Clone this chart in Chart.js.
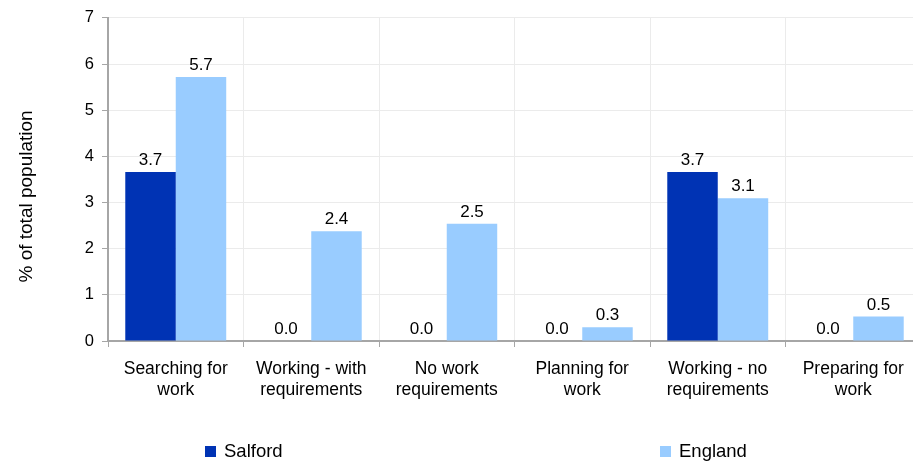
<!DOCTYPE html>
<html>
<head>
<meta charset="utf-8">
<script src="https://cdn.jsdelivr.net/npm/chart.js@4.4.1/dist/chart.umd.min.js"></script>
<style>
  html, body { margin: 0; padding: 0; overflow: hidden; background: #fff; }
  #wrap { position: relative; width: 925px; height: 463px; }
  .legend-item { position: absolute; top: 440px; font: 18.5px "Liberation Sans", Arial, sans-serif; color: #000; white-space: nowrap; }
  .legend-item span.box { display: inline-block; width: 11px; height: 11px; margin-right: 8px; vertical-align: 0px; }
</style>
</head>
<body>
<div id="wrap">
  <canvas id="chart" width="925" height="463"></canvas>
  <div id="legend"></div>
</div>
<script>
//canvas element
const ctx = document.getElementById('chart').getContext('2d');

/**
 * Chart data
 */
const categories = [
    ['Searching for', 'work'],
    ['Working - with', 'requirements'],
    ['No work', 'requirements'],
    ['Planning for', 'work'],
    ['Working - no', 'requirements'],
    ['Preparing for', 'work']
];
const salford = [3.66, 0, 0, 0, 3.66, 0];
const england = [5.72, 2.38, 2.54, 0.3, 3.09, 0.53];
const yTicks = [0, 1, 2, 3, 4, 5, 6, 7];
const yTitle = '% of total population';

const seriesNames = ['Salford', 'England'];
const seriesColors = ['#0033b4', '#99ccff'];
const legendLeft = [205, 660];

const fontFamily = '"Liberation Sans", Arial, sans-serif';

/**
 * draws the value above every bar
 */
const valueLabels = {
    id: 'valueLabels',
    afterDatasetsDraw(chart) {
        const c = chart.ctx;
        c.save();
        c.font = '17px ' + fontFamily;
        c.fillStyle = '#000';
        c.textAlign = 'center';
        c.textBaseline = 'alphabetic';
        chart.data.datasets.forEach((ds, i) => {
            chart.getDatasetMeta(i).data.forEach((bar, j) => {
                c.fillText(ds.data[j].toFixed(1), bar.x, bar.y - 7);
            });
        });
        c.restore();
    }
};

/**
 * vertical axis title, sits a bit below the middle of the plot like the original
 */
const axisTitle = {
    id: 'axisTitle',
    afterDraw(chart) {
        const c = chart.ctx;
        const area = chart.chartArea;
        c.save();
        c.translate(27, (area.top + area.bottom) / 2 + 17);
        c.rotate(-Math.PI / 2);
        c.font = '19px ' + fontFamily;
        c.fillStyle = '#000';
        c.textAlign = 'center';
        c.textBaseline = 'middle';
        c.fillText(yTitle, 0, 0);
        c.restore();
    }
};

const chart = new Chart(ctx, {
    type: 'bar',
    data: {
        labels: categories,
        datasets: [{
            label: seriesNames[0],
            data: salford,
            backgroundColor: seriesColors[0],
            barPercentage: 1,
            categoryPercentage: 0.745
        }, {
            label: seriesNames[1],
            data: england,
            backgroundColor: seriesColors[1],
            barPercentage: 1,
            categoryPercentage: 0.745
        }]
    },
    options: {
        responsive: false,
        animation: false,
        layout: { padding: { top: 14, right: 4, left: 0, bottom: 0 } },
        plugins: {
            legend: { display: false },
            tooltip: { enabled: false }
        },
        scales: {
            x: {
                afterFit: (s) => { s.height = 122; },
                grid: {
                    color: '#ebebeb',
                    tickColor: '#a6a6a6',
                    tickLength: 6,
                    offset: true
                },
                border: { color: '#a6a6a6', width: 2 },
                ticks: {
                    color: '#000',
                    padding: 12,
                    maxRotation: 0,
                    autoSkip: false,
                    font: { family: fontFamily, size: 17.5, lineHeight: 1.18 }
                }
            },
            y: {
                min: 0,
                max: 7,
                afterFit: (s) => { s.width = 108; },
                afterBuildTicks: (s) => { s.ticks = yTicks.map(v => ({ value: v })); },
                grid: {
                    color: '#ebebeb',
                    tickColor: '#a6a6a6',
                    tickLength: 6
                },
                border: { color: '#a6a6a6', width: 2 },
                ticks: {
                    color: '#000',
                    padding: 8,
                    font: { family: fontFamily, size: 16.5 }
                }
            }
        }
    },
    plugins: [valueLabels, axisTitle]
});

//html legend spread like the original
const legend = document.getElementById('legend');
chart.data.datasets.forEach((ds, i) => {
    const item = document.createElement('div');
    item.className = 'legend-item';
    item.style.left = legendLeft[i] + 'px';
    item.innerHTML = '<span class="box" style="background:' + ds.backgroundColor + '"></span>' + ds.label;
    legend.appendChild(item);
});
</script>
</body>
</html>
